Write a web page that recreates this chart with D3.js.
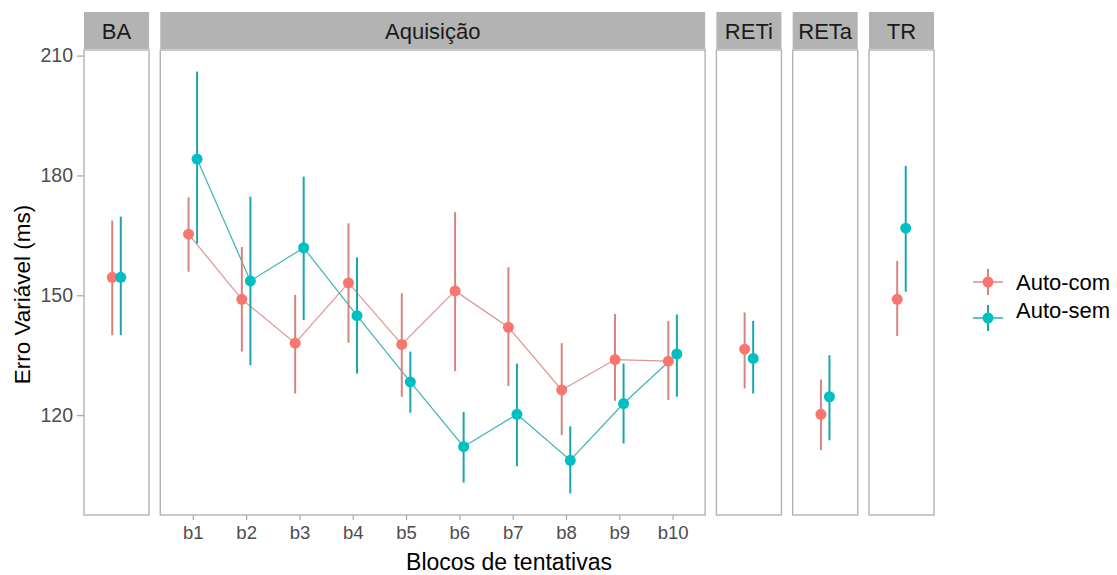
<!DOCTYPE html>
<html>
<head>
<meta charset="utf-8">
<script src="https://cdn.jsdelivr.net/npm/d3@7"></script>
<style>
  html, body { margin: 0; padding: 0; background: #ffffff; }
  svg { display: block; font-family: "Liberation Sans", Arial, sans-serif; }
</style>
</head>
<body>
<svg id="chart" width="1117" height="575"></svg>
<script>
// ---------------- data ----------------
const panels = ["BA", "Aquisição", "RETi", "RETa", "TR"];
const blocks = ["b1", "b2", "b3", "b4", "b5", "b6", "b7", "b8", "b9", "b10"];
const panelLevels = [["BA"], blocks, ["RETi"], ["RETa"], ["TR"]];
const categories = ["BA", "b1", "b2", "b3", "b4", "b5", "b6", "b7", "b8", "b9", "b10", "RETi", "RETa", "TR"];
const categoryPanel = ["BA", "Aquisição", "Aquisição", "Aquisição", "Aquisição", "Aquisição", "Aquisição",
  "Aquisição", "Aquisição", "Aquisição", "Aquisição", "RETi", "RETa", "TR"];
const seriesNames = ["Auto-com", "Auto-sem"];
const seriesColors = ["#F8766D", "#00BFC4"];
const barColors = ["#d6847e", "#1aa7ac"];

const comMean = [154.5, 165.3, 149.0, 138.0, 153.1, 137.7, 151.1, 142.0, 126.3, 133.9, 133.5, 136.5, 120.2, 149.0];
const comLow  = [140.0, 155.9, 135.9, 125.4, 138.1, 124.6, 131.0, 127.3, 115.0, 123.6, 123.8, 126.7, 111.2, 139.8];
const comHigh = [168.7, 174.5, 162.1, 150.1, 168.0, 150.5, 170.8, 157.0, 138.0, 145.3, 143.6, 145.7, 128.9, 158.6];
const semMean = [154.5, 184.1, 153.6, 161.9, 144.9, 128.3, 112.1, 120.2, 108.7, 122.9, 135.3, 134.2, 124.6, 166.8];
const semLow  = [140.0, 163.0, 132.5, 143.8, 130.4, 120.6, 103.1, 107.2, 100.4, 112.9, 124.6, 125.4, 113.7, 150.9];
const semHigh = [169.7, 206.0, 174.7, 179.7, 159.5, 135.9, 120.8, 132.9, 117.2, 132.9, 145.2, 143.6, 135.0, 182.4];
const yTicks = [120, 150, 180, 210];
const xTitle = "Blocos de tentativas";
const yTitle = "Erro Variável (ms)";

// ---------------- layout ----------------
const svg = d3.select("#chart");
const plotLeft = 84, plotRight = 934, panelTop = 50, panelBottom = 515;
const stripTop = 12;
const gap = 11.25;
const pad = 0.61;
const totalUnits = panelLevels.reduce((s, l) => s + (l.length - 1 + 2 * pad), 0);
const unit = (plotRight - plotLeft - gap * (panels.length - 1)) / totalUnits;

const y = d3.scaleLinear().domain([95, 211.4]).range([panelBottom, panelTop]);

let cx = plotLeft;
const panelInfo = panels.map((p, i) => {
  const w = (panelLevels[i].length - 1 + 2 * pad) * unit;
  const xs = d3.scalePoint().domain(panelLevels[i]).range([cx, cx + w]).padding(pad);
  const info = { name: p, x0: cx, w: w, x: xs };
  cx += w + gap;
  return info;
});
const panelByName = {};
panelInfo.forEach(p => panelByName[p.name] = p);

const dodge = 0.08 * unit;
const series = [
  { name: seriesNames[0], mean: comMean, low: comLow, high: comHigh, off: -dodge },
  { name: seriesNames[1], mean: semMean, low: semLow, high: semHigh, off: dodge }
];
series.forEach((s, si) => {
  s.color = seriesColors[si];
  s.barColor = barColors[si];
  s.pts = categories.map((c, i) => {
    const p = panelByName[categoryPanel[i]];
    return { cat: c, panel: categoryPanel[i], x: p.x(c) + s.off, m: s.mean[i], lo: s.low[i], hi: s.high[i] };
  });
});

// strips
panelInfo.forEach(p => {
  svg.append("rect").attr("x", p.x0).attr("y", stripTop).attr("width", p.w).attr("height", panelTop - stripTop - 1)
    .attr("fill", "#b3b3b3");
  svg.append("text").attr("x", p.x0 + p.w / 2).attr("y", (stripTop + panelTop) / 2 + 8)
    .attr("text-anchor", "middle").attr("font-size", 22).attr("fill", "#1a1a1a").text(p.name);
});

// panel backgrounds
panelInfo.forEach(p => {
  svg.append("rect").attr("x", p.x0).attr("y", panelTop).attr("width", p.w).attr("height", panelBottom - panelTop)
    .attr("fill", "#ffffff");
});

// y axis ticks and labels
const yAxis = d3.axisLeft(y).tickValues(yTicks).tickSize(7).tickPadding(4);
const gy = svg.append("g").attr("transform", `translate(${plotLeft},0)`).call(yAxis);
gy.select(".domain").remove();
gy.selectAll(".tick line").attr("stroke", "#a6a6a6").attr("stroke-width", 1.2);
gy.selectAll(".tick text").attr("font-size", 19.5).attr("fill", "#4d4d4d")
  .attr("font-family", "'Liberation Sans', Arial, sans-serif");

// x axes per panel (only the block panel has labels)
panelInfo.forEach((p, i) => {
  if (panelLevels[i].length < 2) return;
  const ax = d3.axisBottom(p.x).tickSize(5).tickPadding(6);
  const g = svg.append("g").attr("transform", `translate(0,${panelBottom})`).call(ax);
  g.select(".domain").remove();
  g.selectAll(".tick line").attr("stroke", "#a6a6a6").attr("stroke-width", 1.2);
  g.selectAll(".tick text").attr("font-size", 18.5).attr("fill", "#4d4d4d")
    .attr("font-family", "'Liberation Sans', Arial, sans-serif");
});

// lines (within Aquisição only)
const lineGen = d3.line().x(d => d.x).y(d => y(d.m));
series.forEach(s => {
  svg.append("path").datum(s.pts.filter(d => d.panel === "Aquisição"))
    .attr("d", lineGen).attr("fill", "none").attr("stroke", s.barColor).attr("stroke-width", 1.2)
    .attr("stroke-opacity", 0.85);
});

// error bars
series.forEach(s => {
  svg.append("g").selectAll("line").data(s.pts).join("line")
    .attr("x1", d => d.x).attr("x2", d => d.x)
    .attr("y1", d => y(d.lo)).attr("y2", d => y(d.hi))
    .attr("stroke", s.barColor).attr("stroke-width", 2);
});

// points
series.forEach(s => {
  svg.append("g").selectAll("circle").data(s.pts).join("circle")
    .attr("cx", d => d.x).attr("cy", d => y(d.m)).attr("r", 5.5)
    .attr("fill", s.color);
});

// panel borders
panelInfo.forEach(p => {
  svg.append("rect").attr("x", p.x0).attr("y", panelTop).attr("width", p.w).attr("height", panelBottom - panelTop)
    .attr("fill", "none").attr("stroke", "#b3b3b3").attr("stroke-width", 1.4);
});

// axis titles
svg.append("text").attr("x", (plotLeft + plotRight) / 2).attr("y", 570)
  .attr("text-anchor", "middle").attr("font-size", 23).attr("fill", "#000").text(xTitle);
svg.append("text").attr("transform", `translate(30,${(panelTop + panelBottom) / 2 + 12}) rotate(-90)`)
  .attr("text-anchor", "middle").attr("font-size", 22.5).attr("fill", "#000").text(yTitle);

// legend
const legY = [282, 318];
series.forEach((s, i) => {
  const g = svg.append("g").attr("transform", `translate(988,${legY[i]})`);
  g.append("line").attr("x1", -15).attr("x2", 15).attr("y1", 0).attr("y2", 0)
    .attr("stroke", s.barColor).attr("stroke-width", 1.4);
  g.append("line").attr("x1", 0).attr("x2", 0).attr("y1", -13).attr("y2", 13)
    .attr("stroke", s.barColor).attr("stroke-width", 2);
  g.append("circle").attr("r", 5.5).attr("fill", s.color);
});
svg.append("text").attr("x", 1016).attr("y", 290).attr("font-size", 22).attr("fill", "#000").text(seriesNames[0]);
svg.append("text").attr("x", 1016).attr("y", 318).attr("font-size", 22).attr("fill", "#000").text(seriesNames[1]);
</script>
</body>
</html>
